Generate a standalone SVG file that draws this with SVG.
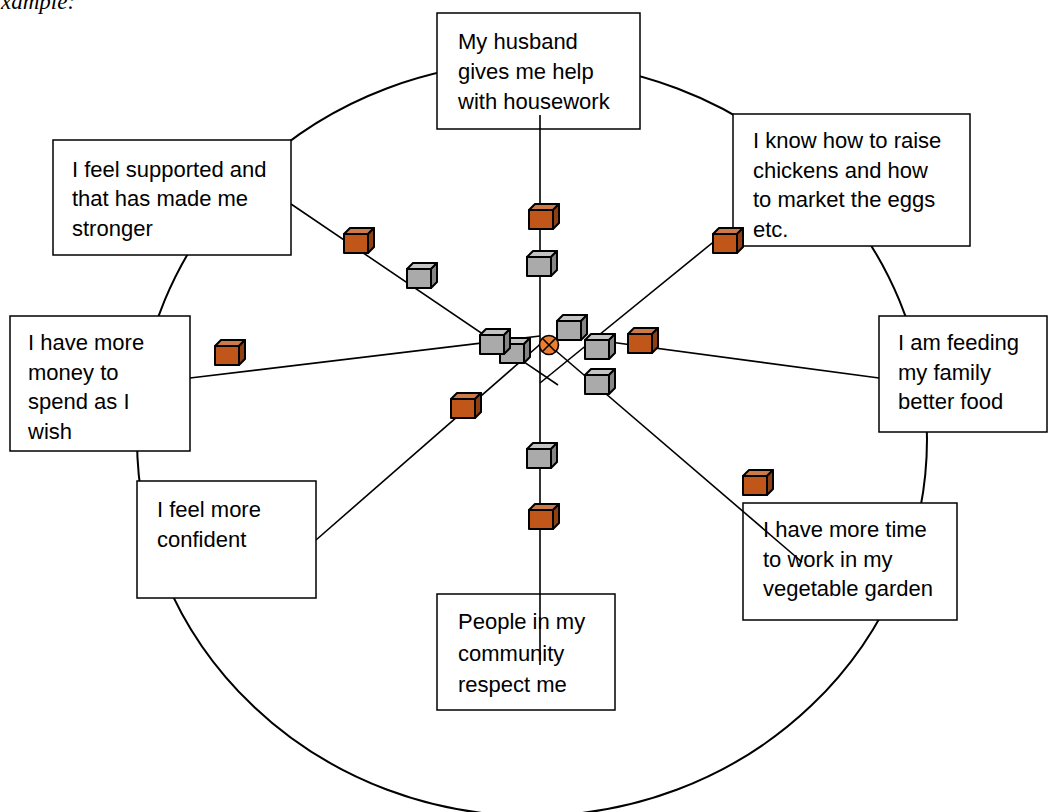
<svg xmlns="http://www.w3.org/2000/svg" width="1048" height="812" viewBox="0 0 1048 812">
<style>
.box{fill:#fff;stroke:#000;stroke-width:1.5}
.t{font-family:"Liberation Sans",Arial,sans-serif;font-size:22px;fill:#000}
.sp{stroke:#000;stroke-width:1.6;fill:none}
.cf{stroke:#000;stroke-width:2;stroke-linejoin:round}
</style>
<defs>
<g id="cubeO">
<rect class="cf" x="0" y="0" width="24" height="19" fill="#C0561A"/>
<polygon class="cf" points="0,0 6,-6 30,-6 24,0" fill="#CD7A48"/>
<polygon class="cf" points="24,0 30,-6 30,13 24,19" fill="#8F3F10"/>
</g>
<g id="cubeG">
<rect class="cf" x="0" y="0" width="24" height="19" fill="#AAAAAA"/>
<polygon class="cf" points="0,0 6,-6 30,-6 24,0" fill="#C4C4C4"/>
<polygon class="cf" points="24,0 30,-6 30,13 24,19" fill="#858585"/>
</g>
</defs>
<rect width="1048" height="812" fill="#fff"/>
<text x="-13" y="9" font-family="'Liberation Serif',serif" font-style="italic" font-size="23">Example:</text>
<ellipse cx="532" cy="439" rx="395" ry="377" fill="none" stroke="#000" stroke-width="2"/>
<g id="n1"><rect class="box" x="437" y="13" width="203" height="116"/><text class="t"><tspan x="458" y="49">My husband</tspan><tspan x="458" y="79">gives me help</tspan><tspan x="458" y="109">with housework</tspan></text></g>
<g id="n2"><rect class="box" x="53" y="140" width="238" height="115"/><text class="t"><tspan x="72" y="177">I feel supported and</tspan><tspan x="72" y="206">that has made me</tspan><tspan x="72" y="236">stronger</tspan></text></g>
<g id="n3"><rect class="box" x="733" y="114" width="237" height="132"/><text class="t"><tspan x="753" y="148">I know how to raise</tspan><tspan x="753" y="178">chickens and how</tspan><tspan x="753" y="207">to market the eggs</tspan><tspan x="753" y="237">etc.</tspan></text></g>
<g id="n4"><rect class="box" x="10" y="316" width="180" height="135"/><text class="t"><tspan x="28" y="350">I have more</tspan><tspan x="28" y="380">money to</tspan><tspan x="28" y="409">spend as I</tspan><tspan x="28" y="439">wish</tspan></text></g>
<g id="n5"><rect class="box" x="879" y="316" width="168" height="116"/><text class="t"><tspan x="898" y="350">I am feeding</tspan><tspan x="898" y="380">my family</tspan><tspan x="898" y="409">better food</tspan></text></g>
<g id="n6"><rect class="box" x="137" y="481" width="179" height="117"/><text class="t"><tspan x="157" y="517">I feel more</tspan><tspan x="157" y="547">confident</tspan></text></g>
<g id="n7"><rect class="box" x="743" y="503" width="214" height="117"/><text class="t"><tspan x="763" y="537">I have more time</tspan><tspan x="763" y="567">to work in my</tspan><tspan x="763" y="596">vegetable garden</tspan></text></g>
<g id="n8"><rect class="box" x="437" y="594" width="178" height="116"/><text class="t"><tspan x="458" y="629">People in my</tspan><tspan x="458" y="661">community</tspan><tspan x="458" y="692">respect me</tspan></text></g>
<g id="connectors">
<line class="sp" x1="540" y1="115" x2="540" y2="665"/>
<line class="sp" x1="291" y1="204" x2="558" y2="385"/>
<line class="sp" x1="722" y1="235" x2="540" y2="383"/>
<line class="sp" x1="190" y1="378" x2="540" y2="336"/>
<line class="sp" x1="879" y1="378" x2="595" y2="340"/>
<line class="sp" x1="316" y1="540" x2="545" y2="340"/>
<line class="sp" x1="549" y1="345" x2="802" y2="562"/>
</g>
<g id="cubes">
<use href="#cubeO" x="529" y="210"/>
<use href="#cubeO" x="344" y="234"/>
<use href="#cubeO" x="713" y="234"/>
<use href="#cubeO" x="215" y="346"/>
<use href="#cubeO" x="628" y="334"/>
<use href="#cubeO" x="451" y="399"/>
<use href="#cubeO" x="743" y="476"/>
<use href="#cubeO" x="529" y="510"/>
<use href="#cubeG" x="527" y="257"/>
<use href="#cubeG" x="407" y="269"/>
<use href="#cubeG" x="500" y="344"/>
<use href="#cubeG" x="480" y="335"/>
<use href="#cubeG" x="557" y="321"/>
<use href="#cubeG" x="585" y="340"/>
<use href="#cubeG" x="585" y="375"/>
<use href="#cubeG" x="527" y="449"/>
</g>
<g id="center">
<circle cx="549" cy="345" r="9.5" fill="#ED7D31" stroke="#000" stroke-width="1.6"/>
<line class="sp" x1="542.3" y1="338.3" x2="555.7" y2="351.7"/>
<line class="sp" x1="555.7" y1="338.3" x2="542.3" y2="351.7"/>
</g>
</svg>
